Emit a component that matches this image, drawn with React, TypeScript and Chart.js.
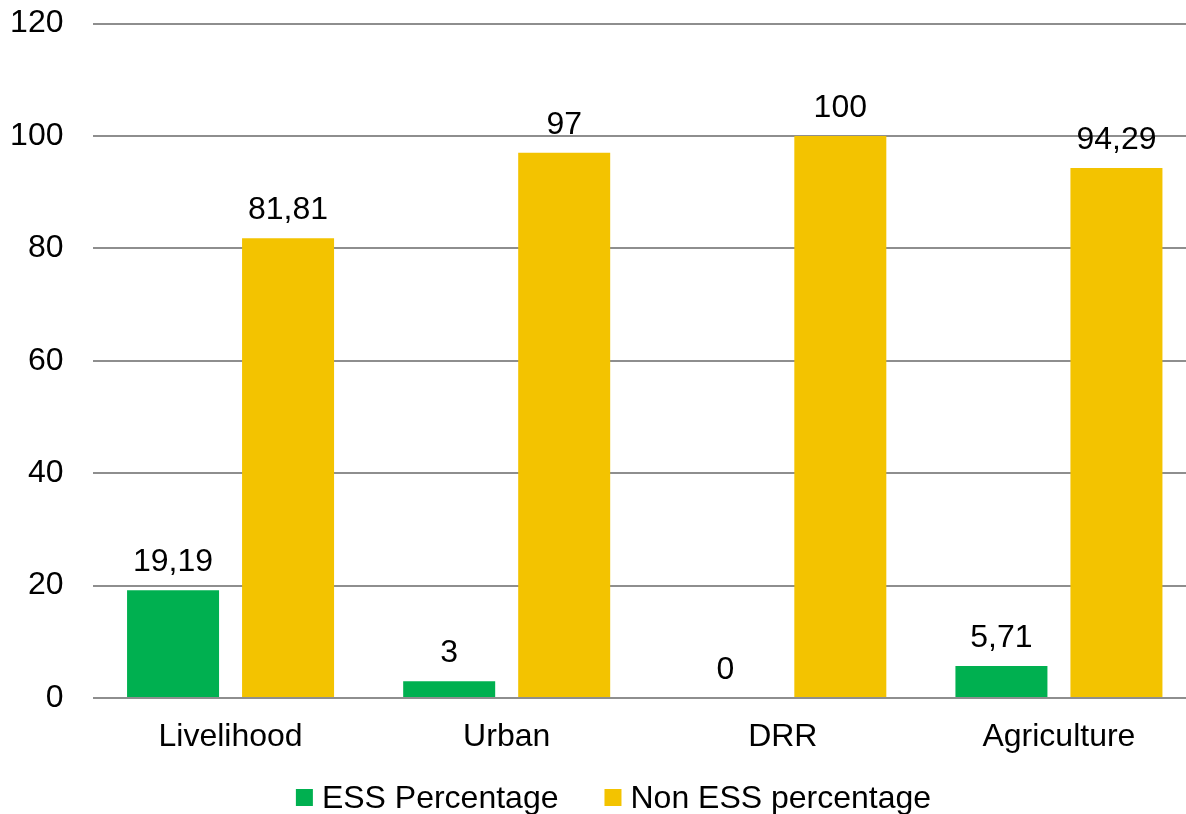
import React, { useEffect, useRef } from "react";
import { Chart, registerables } from "chart.js";

Chart.register(...registerables);

const categories = ["Livelihood", "Urban", "DRR", "Agriculture"];
const essValues = [19.19, 3, 0, 5.71];
const nonEssValues = [81.81, 97, 100, 94.29];
const seriesNames = ["ESS Percentage", "Non ESS percentage"];
const seriesColors = ["#00B050", "#F3C300"];
const yTicks = [0, 20, 40, 60, 80, 100, 120];

const FONT = "'Liberation Sans', Arial, sans-serif";
const FS = 32;

const fmt = (v: number) => String(v).replace(".", ",");

const valueLabels = {
  id: "valueLabels",
  afterDatasetsDraw(chart: any) {
    const ctx = chart.ctx;
    ctx.save();
    ctx.font = `${FS}px ${FONT}`;
    ctx.fillStyle = "#000000";
    ctx.textAlign = "center";
    ctx.textBaseline = "alphabetic";
    chart.data.datasets.forEach((ds: any, di: number) => {
      const meta = chart.getDatasetMeta(di);
      meta.data.forEach((bar: any, i: number) => {
        ctx.fillText(fmt(ds.data[i]), bar.x, bar.y - 19);
      });
    });
    ctx.restore();
  },
};

const bottomLegend = {
  id: "bottomLegend",
  afterDraw(chart: any) {
    const ctx = chart.ctx;
    ctx.save();
    ctx.font = `${FS}px ${FONT}`;
    ctx.textBaseline = "alphabetic";
    ctx.textAlign = "left";
    const box = 17;
    const gapText = 9;
    const gapItem = 46;
    const items = chart.data.datasets.map((ds: any) => ({
      label: ds.label,
      color: ds.backgroundColor,
      w: box + gapText + ctx.measureText(ds.label).width,
    }));
    const total = items.reduce((s: number, it: any) => s + it.w, 0) + gapItem * (items.length - 1);
    let x = 613.5 - total / 2;
    const baseline = chart.height - 6;
    items.forEach((it: any) => {
      ctx.fillStyle = it.color;
      ctx.fillRect(x, baseline - 19, box, box);
      ctx.fillStyle = "#000000";
      ctx.fillText(it.label, x + box + gapText, baseline);
      x += it.w + gapItem;
    });
    ctx.restore();
  },
};

export default function App() {
  const ref = useRef<HTMLCanvasElement | null>(null);

  useEffect(() => {
    if (!ref.current) return;
    const chart = new Chart(ref.current, {
      type: "bar",
      data: {
        labels: categories,
        datasets: [
          {
            label: seriesNames[0],
            data: essValues,
            backgroundColor: seriesColors[0],
            categoryPercentage: 0.833,
            barPercentage: 0.8,
          },
          {
            label: seriesNames[1],
            data: nonEssValues,
            backgroundColor: seriesColors[1],
            categoryPercentage: 0.833,
            barPercentage: 0.8,
          },
        ],
      },
      options: {
        responsive: false,
        animation: false,
        layout: { padding: { top: 23.5, bottom: 50, left: 0, right: 0 } },
        plugins: {
          legend: { display: false },
          tooltip: { enabled: false },
        },
        scales: {
          x: {
            grid: { display: false, drawTicks: false },
            border: { display: false },
            ticks: {
              color: "#000000",
              font: { family: FONT, size: FS },
              padding: 20,
            },
            afterFit: (scale: any) => {
              scale.height = 66;
            },
          },
          y: {
            min: 0,
            max: 120,
            afterBuildTicks: (scale: any) => {
              scale.ticks = yTicks.map((v) => ({ value: v }));
            },
            grid: { color: "#8E8E8E", lineWidth: 2, drawTicks: false },
            border: { display: false },
            ticks: {
              color: "#000000",
              font: { family: FONT, size: FS },
              padding: 29,
            },
            afterFit: (scale: any) => {
              scale.width = 92.5;
              scale.paddingTop = 0;
              scale.paddingBottom = 0;
            },
          },
        },
      },
      plugins: [valueLabels, bottomLegend],
    });
    return () => chart.destroy();
  }, []);

  return (
    <div
      style={{
        position: "absolute",
        left: 0,
        top: 0,
        width: 1186,
        height: 814,
        overflow: "hidden",
        background: "#ffffff",
      }}
    >
      <canvas ref={ref} width={1197} height={814} style={{ display: "block" }} />
    </div>
  );
}
